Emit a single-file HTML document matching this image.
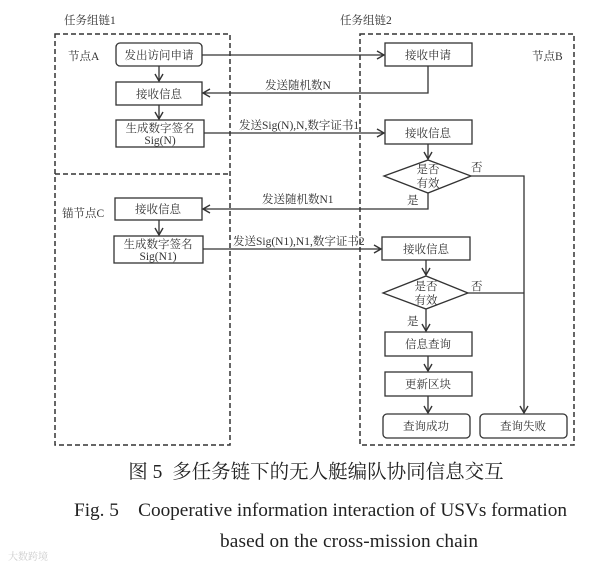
<!DOCTYPE html>
<html><head><meta charset="utf-8"><style>
body{margin:0;background:#fff;width:611px;height:565px;overflow:hidden}
svg text{font-family:"Liberation Serif","Noto Serif CJK SC",serif;fill:#333}
</style></head><body>
<svg width="611" height="565" viewBox="0 0 611 565" xmlns="http://www.w3.org/2000/svg">
<defs><marker id="a" markerWidth="10" markerHeight="10" refX="8" refY="5" orient="auto" markerUnits="userSpaceOnUse"><path d="M1,1 L8,5 L1,9" fill="none" stroke="#333" stroke-width="1.4"/></marker></defs>
<g fill="none" stroke="#333" stroke-width="1.5" stroke-dasharray="5,3">
<rect x="55" y="34" width="175" height="411"/>
<line x1="55" y1="174" x2="230" y2="174"/>
<rect x="360" y="34" width="214" height="411"/>
</g>
<g font-size="11.5">
<text x="64" y="24">任务组链1</text>
<text x="340" y="24">任务组链2</text>
<text x="68" y="60">节点A</text>
<text x="532" y="60">节点B</text>
<text x="62" y="217">锚节点C</text>
</g>
<g fill="#fff" stroke="#333" stroke-width="1.3">
<rect x="116" y="43" width="86" height="23" rx="4"/>
<rect x="116" y="82" width="86" height="23"/>
<rect x="116" y="120" width="88" height="27"/>
<rect x="115" y="198" width="87" height="22"/>
<rect x="114" y="236" width="89" height="27"/>
<rect x="385" y="43" width="87" height="23"/>
<rect x="385" y="120" width="87" height="24"/>
<polygon points="384,176 428,160 471,176 428,193"/>
<rect x="382" y="237" width="88" height="23"/>
<polygon points="383,293 426,276 468,293 426,309"/>
<rect x="385" y="332" width="87" height="24"/>
<rect x="385" y="372" width="87" height="24"/>
<rect x="383" y="414" width="87" height="24" rx="4"/>
<rect x="480" y="414" width="87" height="24" rx="4"/>
</g>
<g fill="none" stroke="#333" stroke-width="1.3">
<line x1="159" y1="66" x2="159" y2="81" marker-end="url(#a)"/>
<line x1="159" y1="105" x2="159" y2="119" marker-end="url(#a)"/>
<line x1="159" y1="220" x2="159" y2="235" marker-end="url(#a)"/>
<line x1="202" y1="55" x2="384" y2="55" marker-end="url(#a)"/>
<polyline points="428,66 428,93 203,93" marker-end="url(#a)"/>
<line x1="204" y1="133" x2="384" y2="133" marker-end="url(#a)"/>
<line x1="428" y1="144" x2="428" y2="159" marker-end="url(#a)"/>
<polyline points="428,193 428,209 203,209" marker-end="url(#a)"/>
<polyline points="471,176 524,176 524,413" marker-end="url(#a)"/>
<line x1="203" y1="249" x2="381" y2="249" marker-end="url(#a)"/>
<line x1="426" y1="260" x2="426" y2="275" marker-end="url(#a)"/>
<line x1="468" y1="293" x2="524" y2="293"/>
<line x1="426" y1="309" x2="426" y2="331" marker-end="url(#a)"/>
<line x1="428" y1="356" x2="428" y2="371" marker-end="url(#a)"/>
<line x1="428" y1="396" x2="428" y2="413" marker-end="url(#a)"/>
</g>
<g font-size="11.5" text-anchor="middle">
<text x="159" y="59">发出访问申请</text>
<text x="159" y="98">接收信息</text>
<text x="160" y="132">生成数字签名</text>
<text x="160" y="144">Sig(N)</text>
<text x="158" y="213">接收信息</text>
<text x="158" y="248">生成数字签名</text>
<text x="158" y="260">Sig(N1)</text>
<text x="428" y="59">接收申请</text>
<text x="428" y="137">接收信息</text>
<text x="428" y="173">是否</text>
<text x="428" y="187">有效</text>
<text x="426" y="253">接收信息</text>
<text x="426" y="290">是否</text>
<text x="426" y="304">有效</text>
<text x="428" y="348">信息查询</text>
<text x="428" y="388">更新区块</text>
<text x="426" y="430">查询成功</text>
<text x="523" y="430">查询失败</text>
</g>
<g font-size="11.5">
<text x="265" y="89">发送随机数N</text>
<text x="239" y="129">发送Sig(N),N,数字证书1</text>
<text x="262" y="203">发送随机数N1</text>
<text x="233" y="245">发送Sig(N1),N1,数字证书2</text>
<text x="471" y="171">否</text>
<text x="407" y="204">是</text>
<text x="471" y="290">否</text>
<text x="407" y="325">是</text>
</g>
<text x="316" y="478" font-size="19.5" text-anchor="middle" style="fill:#222">图 5&#160; 多任务链下的无人艇编队协同信息交互</text>
<text x="74" y="516" font-size="19.3" textLength="493" style="fill:#222">Fig. 5&#160;&#160;&#160; Cooperative information interaction of USVs formation</text>
<text x="220" y="547" font-size="19.3" textLength="258" style="fill:#222">based on the cross-mission chain</text>
<text x="8" y="560" font-size="10" style="fill:#ccc">大数跨境</text>
</svg>
</body></html>
